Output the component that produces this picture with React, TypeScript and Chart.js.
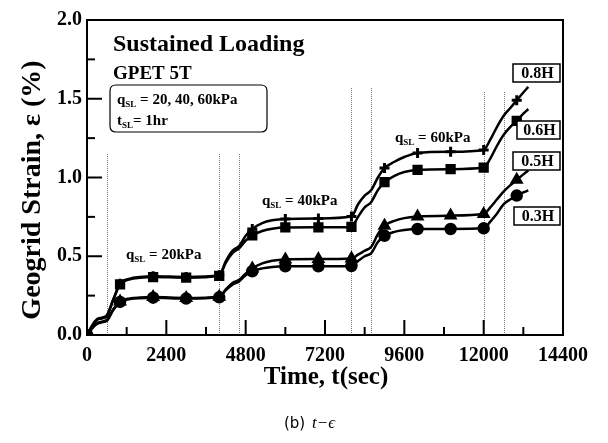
import React, { useEffect, useRef } from "react";
import { Chart, registerables } from "chart.js";

Chart.register(...registerables);

// ---- data ----
const times = [0, 150, 300, 450, 600, 800, 1000, 1300, 1600, 2000, 3000, 4000,
  4200, 4400, 4600, 4800, 5000, 5300, 5600, 6000, 7000, 8000,
  8200, 8400, 8600, 8800, 9000, 9300, 9600, 10000, 11000, 12000,
  12200, 12400, 12600, 12800, 13000, 13200, 13350];

const strain08H = [0, 0.06, 0.1, 0.11, 0.125, 0.23, 0.325, 0.358, 0.368, 0.373, 0.369, 0.38,
  0.47, 0.535, 0.565, 0.63, 0.673, 0.71, 0.728, 0.737, 0.74, 0.752,
  0.83, 0.885, 0.92, 1.0, 1.06, 1.1, 1.13, 1.156, 1.163, 1.175,
  1.24, 1.32, 1.39, 1.44, 1.49, 1.54, 1.575];

const strain06H = [0, 0.055, 0.095, 0.105, 0.12, 0.225, 0.322, 0.353, 0.363, 0.368, 0.364, 0.376,
  0.46, 0.52, 0.55, 0.6, 0.632, 0.66, 0.675, 0.683, 0.684, 0.686,
  0.75, 0.81, 0.845, 0.92, 0.97, 1.01, 1.035, 1.048, 1.053, 1.063,
  1.12, 1.2, 1.27, 1.32, 1.36, 1.405, 1.435];

const strain05H = [0, 0.045, 0.075, 0.085, 0.095, 0.165, 0.213, 0.232, 0.238, 0.241, 0.235, 0.243,
  0.29, 0.33, 0.35, 0.39, 0.423, 0.455, 0.472, 0.48, 0.482, 0.486,
  0.51, 0.535, 0.56, 0.64, 0.694, 0.725, 0.742, 0.752, 0.758, 0.768,
  0.81, 0.86, 0.91, 0.95, 0.985, 1.02, 1.045];

const strain03H = [0, 0.04, 0.07, 0.08, 0.09, 0.16, 0.21, 0.228, 0.234, 0.237, 0.231, 0.239,
  0.285, 0.32, 0.34, 0.38, 0.405, 0.423, 0.432, 0.436, 0.436, 0.438,
  0.47, 0.5, 0.52, 0.59, 0.63, 0.655, 0.667, 0.673, 0.673, 0.677,
  0.72, 0.77, 0.83, 0.86, 0.885, 0.905, 0.918];

const markerTimes = [0, 1000, 2000, 3000, 4000, 5000, 6000, 7000, 8000, 9000, 10000, 11000, 12000, 13000];

const loadLineTimes = [600, 4000, 4600, 8000, 8600, 12000, 12600];
const loadLineTops = [1.15, 1.15, 1.15, 1.57, 1.57, 1.55, 1.55];

const seriesLabels = ["0.8H", "0.6H", "0.5H", "0.3H"];
const xTitle = "Time, t(sec)";
const yTitle = "Geogrid Strain, \u03b5 (%)";

const SERIF = '"Liberation Serif"';

function drawQ(ctx: CanvasRenderingContext2D, x: number, y: number, sym: string, rest: string, size: number) {
  ctx.save();
  ctx.textBaseline = "alphabetic";
  ctx.textAlign = "left";
  ctx.font = `bold ${size}px ${SERIF}`;
  ctx.fillText(sym, x, y);
  let cx = x + ctx.measureText(sym).width;
  ctx.font = `bold ${Math.round(size * 0.62)}px ${SERIF}`;
  ctx.fillText("SL", cx, y + size * 0.22);
  cx += ctx.measureText("SL").width;
  ctx.font = `bold ${size}px ${SERIF}`;
  ctx.fillText(rest, cx, y);
  ctx.restore();
}

function roundRect(ctx: CanvasRenderingContext2D, x: number, y: number, w: number, h: number, r: number) {
  ctx.beginPath();
  ctx.moveTo(x + r, y);
  ctx.lineTo(x + w - r, y);
  ctx.quadraticCurveTo(x + w, y, x + w, y + r);
  ctx.lineTo(x + w, y + h - r);
  ctx.quadraticCurveTo(x + w, y + h, x + w - r, y + h);
  ctx.lineTo(x + r, y + h);
  ctx.quadraticCurveTo(x, y + h, x, y + h - r);
  ctx.lineTo(x, y + r);
  ctx.quadraticCurveTo(x, y, x + r, y);
  ctx.closePath();
}

const decorPlugin = {
  id: "decor",
  beforeDatasetsDraw(chart: any) {
    const ctx = chart.ctx as CanvasRenderingContext2D;
    const xs = chart.scales.x;
    const ys = chart.scales.y;
    ctx.save();
    ctx.strokeStyle = "#777";
    ctx.lineWidth = 1;
    ctx.setLineDash([1, 1]);
    loadLineTimes.forEach((t, i) => {
      const px = Math.round(xs.getPixelForValue(t)) + 0.5;
      ctx.beginPath();
      ctx.moveTo(px, ys.getPixelForValue(0));
      ctx.lineTo(px, ys.getPixelForValue(loadLineTops[i]));
      ctx.stroke();
    });
    ctx.restore();
  },
  afterDraw(chart: any) {
    const ctx = chart.ctx as CanvasRenderingContext2D;
    const { left, right, top, bottom } = chart.chartArea;
    const xs = chart.scales.x;
    const ys = chart.scales.y;
    ctx.save();
    ctx.strokeStyle = "#000";
    ctx.lineWidth = 2;
    ctx.strokeRect(left, top, right - left, bottom - top);
    // inward ticks
    for (let v = 1200; v < 14400; v += 1200) {
      const px = xs.getPixelForValue(v);
      const len = v % 2400 === 0 ? 15 : 8;
      ctx.beginPath();
      ctx.moveTo(px, bottom);
      ctx.lineTo(px, bottom - len);
      ctx.stroke();
    }
    for (let k = 1; k < 8; k++) {
      const v = k * 0.25;
      const py = ys.getPixelForValue(v);
      const len = k % 2 === 0 ? 15 : 8;
      ctx.beginPath();
      ctx.moveTo(left, py);
      ctx.lineTo(left + len, py);
      ctx.stroke();
    }

    ctx.fillStyle = "#000";
    ctx.textAlign = "left";
    ctx.textBaseline = "alphabetic";
    ctx.font = `bold 24px ${SERIF}`;
    ctx.fillText("Sustained Loading", 113, 51);
    ctx.font = `bold 19px ${SERIF}`;
    ctx.fillText("GPET 5T", 113, 79);

    // info box
    ctx.lineWidth = 1.2;
    roundRect(ctx, 110, 85, 157, 47, 6);
    ctx.stroke();
    drawQ(ctx, 117, 104, "q", " = 20, 40, 60kPa", 15);
    drawQ(ctx, 117, 125, "t", "= 1hr", 15);

    drawQ(ctx, 126, 259, "q", " = 20kPa", 15);
    drawQ(ctx, 262, 205, "q", " = 40kPa", 15);
    drawQ(ctx, 395, 142, "q", " = 60kPa", 15);

    // series boxes
    const boxes = [
      [513, 64, 47, 18],
      [517, 121, 43, 18],
      [513, 152, 47, 18],
      [514, 207, 46, 18],
    ];
    ctx.font = `bold 16px ${SERIF}`;
    ctx.textAlign = "center";
    ctx.textBaseline = "middle";
    boxes.forEach((b, i) => {
      ctx.fillStyle = "#fff";
      ctx.fillRect(b[0], b[1], b[2], b[3]);
      ctx.lineWidth = 1.5;
      ctx.strokeStyle = "#000";
      ctx.strokeRect(b[0], b[1], b[2], b[3]);
      ctx.fillStyle = "#000";
      ctx.fillText(seriesLabels[i], b[0] + b[2] / 2 + 1, b[1] + b[3] / 2 + 1);
    });

    // axis titles
    ctx.font = `bold 25px ${SERIF}`;
    ctx.textAlign = "center";
    ctx.textBaseline = "middle";
    ctx.fillText(xTitle, 326, 378);
    ctx.save();
    ctx.translate(33, 190);
    ctx.rotate(-Math.PI / 2);
    ctx.font = `bold 28px ${SERIF}`;
    ctx.fillText(yTitle, 0, 0);
    ctx.restore();

    // caption
    ctx.textAlign = "left";
    ctx.textBaseline = "alphabetic";
    ctx.font = `15px "DejaVu Sans"`;
    ctx.fillText("(b)", 284, 428);
    const w = ctx.measureText("(b) ").width;
    ctx.font = `italic 17px ${SERIF}`;
    ctx.fillText("t\u2212\u03f5", 284 + w + 2, 428);
    ctx.restore();
  },
};

export default function App() {
  const ref = useRef<HTMLCanvasElement | null>(null);
  useEffect(() => {
    if (!ref.current) return;
    const mk = (vals: number[]) => times.map((t, i) => ({ x: t, y: vals[i] }));
    const radiusFn = (r: number) => (c: any) =>
      markerTimes.includes(times[c.dataIndex]) ? r : 0;
    const base = {
      borderColor: "#000",
      backgroundColor: "#000",
      borderWidth: 2.5,
      cubicInterpolationMode: "monotone" as const,
      pointBorderColor: "#000",
      pointBackgroundColor: "#000",
      pointHoverRadius: 0,
    };
    const chart = new Chart(ref.current, {
      type: "line",
      data: {
        datasets: [
          { ...base, label: seriesLabels[3], data: mk(strain03H), pointStyle: "circle", pointRadius: radiusFn(5) },
          { ...base, label: seriesLabels[2], data: mk(strain05H), pointStyle: "triangle", pointRadius: radiusFn(5.5) },
          { ...base, label: seriesLabels[1], data: mk(strain06H), pointStyle: "rect", pointRadius: radiusFn(5.5) },
          { ...base, label: seriesLabels[0], data: mk(strain08H), pointStyle: "cross", pointRadius: radiusFn(5), pointBorderWidth: 3 },
        ] as any,
      },
      options: {
        animation: false,
        responsive: false,
        devicePixelRatio: 1,
        layout: { padding: { left: 0, top: 20, right: 45, bottom: 0 } },
        plugins: { legend: { display: false }, tooltip: { enabled: false } },
        scales: {
          x: {
            type: "linear",
            min: 0,
            max: 14400,
            grid: { display: false, drawTicks: false },
            border: { display: false },
            afterFit: (s: any) => { s.height = 108; },
            ticks: {
              stepSize: 1200,
              autoSkip: false,
              maxRotation: 0,
              padding: 9,
              color: "#000",
              font: { family: SERIF, size: 20, weight: "bold" },
              callback: (v: any) => (Number(v) % 2400 === 0 ? String(v) : ""),
            },
          },
          y: {
            type: "linear",
            min: 0,
            max: 2,
            grid: { display: false, drawTicks: false },
            border: { display: false },
            afterFit: (s: any) => { s.width = 87; },
            ticks: {
              stepSize: 0.25,
              autoSkip: false,
              padding: 5,
              color: "#000",
              font: { family: SERIF, size: 20, weight: "bold" },
              callback: (v: any) => {
                const n = Number(v);
                return Math.abs(n * 2 - Math.round(n * 2)) < 1e-9 ? n.toFixed(1) : "";
              },
            },
          },
        },
      },
      plugins: [decorPlugin],
    });
    return () => chart.destroy();
  }, []);
  return (
    <canvas
      ref={ref}
      width={608}
      height={443}
      style={{ position: "absolute", left: 0, top: 0, width: 608, height: 443, background: "#fff" }}
    />
  );
}
